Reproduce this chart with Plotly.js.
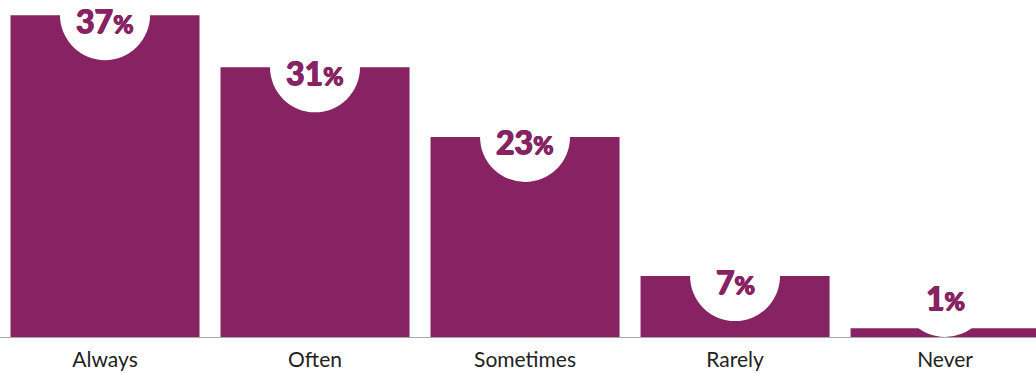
<!DOCTYPE html>
<html>
<head>
<meta charset="utf-8">
<script src="https://cdn.plot.ly/plotly-3.0.1.min.js"></script>
<style>html,body{margin:0;padding:0;background:#fff;}#chart{width:1036px;height:373px;}</style>
</head>
<body>
<div id="chart"></div>
<script>
const categories = ["Always", "Often", "Sometimes", "Rarely", "Never"];
const values = [37, 31, 23, 7, 1];
const valueLabels = ["37", "31", "23", "7", "1"];

const purple = "#872263";
const pxPerUnit = 337 / 38.74;
const radiusPx = 45;
const radiusUnits = radiusPx / pxPerUnit;

const shapes = values.map((v, i) => ({
  type: "circle",
  xref: "x", yref: "y",
  xsizemode: "pixel", ysizemode: "pixel",
  xanchor: i, yanchor: Math.max(v, radiusUnits),
  x0: -radiusPx, x1: radiusPx, y0: -radiusPx, y1: radiusPx,
  fillcolor: "#ffffff",
  line: {width: 0},
  layer: "above"
}));

const annotations = values.map((v, i) => ({
  x: i, y: Math.max(v, radiusUnits),
  xref: "x", yref: "y",
  text: "<b>" + valueLabels[i] + "<span style='font-size:25px'>%</span></b>",
  showarrow: false,
  yanchor: "middle",
  yshift: -5,
  font: {family: "Lato", size: 32, color: purple,
         shadow: "0.7px 0 0 #872263, -0.7px 0 0 #872263, 0 0.5px 0 #872263"}
}));

const trace = {
  type: "bar",
  x: categories,
  y: values,
  marker: {color: purple, line: {width: 0}},
  width: 0.9,
  hoverinfo: "none",
  cliponaxis: true
};

const layout = {
  width: 1036, height: 373,
  margin: {l: 0, r: 0, t: 0, b: 36},
  paper_bgcolor: "#ffffff",
  plot_bgcolor: "#ffffff",
  showlegend: false,
  xaxis: {
    type: "category",
    range: [-0.5, 4.433],
    showgrid: false, zeroline: false,
    showline: true, linecolor: "#a9a9a9", linewidth: 1,
    ticks: "",
    ticklabelstandoff: 4,
    tickfont: {family: "Lato", size: 21, color: "#222222"},
    fixedrange: true
  },
  yaxis: {
    range: [0, 38.74],
    visible: false,
    showgrid: false, zeroline: false,
    fixedrange: true
  },
  shapes: shapes,
  annotations: annotations
};

Plotly.newPlot("chart", [trace], layout, {displayModeBar: false, staticPlot: true});
</script>
</body>
</html>
